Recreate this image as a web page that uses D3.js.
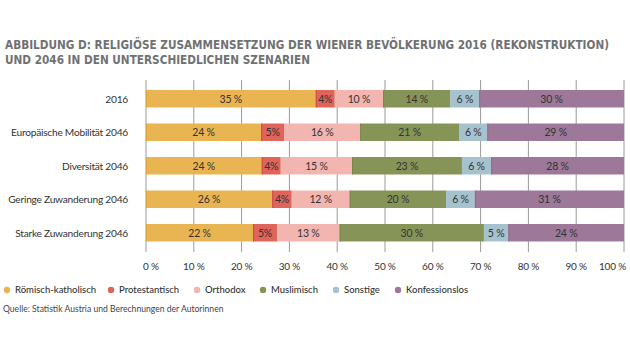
<!DOCTYPE html>
<html><head><meta charset="utf-8">
<script src="https://cdn.jsdelivr.net/npm/d3@7/dist/d3.min.js"></script>
<style>
body{margin:0;background:#fff;}
svg{display:block;}
</style></head>
<body>
<svg id="chart" width="630" height="356"></svg>
<script>
const titleLines = ["ABBILDUNG D: RELIGIÖSE ZUSAMMENSETZUNG DER WIENER BEVÖLKERUNG 2016 (REKONSTRUKTION)",
                    "UND 2046 IN DEN UNTERSCHIEDLICHEN SZENARIEN"];
const categories = ["2016","Europäische Mobilität 2046","Diversität 2046","Geringe Zuwanderung 2046","Starke Zuwanderung 2046"];
const seriesNames = ["Römisch-katholisch","Protestantisch","Orthodox","Muslimisch","Sonstige","Konfessionslos"];
const seriesColors = ["#E9B552","#E0645A","#F3B5AF","#879458","#A6C2CE","#9D7898"];
const seriesStrokes = ["#DDA33C","#C9493F","#F3B5AF","#7A874C","#A6C2CE","#906B8A"];
const katholisch     = [35.5, 24.1, 24.2, 26.4, 22.4];
const protestantisch = [4.0, 4.8, 4.0, 4.1, 5.0];
const orthodox       = [10.1, 15.9, 14.9, 12.1, 13.1];
const muslimisch     = [14.1, 20.7, 23.0, 20.2, 30.2];
const sonstige       = [6.0, 5.9, 6.1, 6.0, 5.1];
const konfessionslos = [30.3, 28.6, 27.8, 31.2, 24.2];
const labelKatholisch     = ["35 %","24 %","24 %","26 %","22 %"];
const labelProtestantisch = ["4%","5%","4%","4%","5%"];
const labelOrthodox       = ["10 %","16 %","15 %","12 %","13 %"];
const labelMuslimisch     = ["14 %","21 %","23 %","20 %","30 %"];
const labelSonstige       = ["6 %","6 %","6 %","6 %","5 %"];
const labelKonfessionslos = ["30 %","29 %","28 %","31 %","24 %"];
const tickValues = [0,10,20,30,40,50,60,70,80,90,100];
const tickLabels = ["0 %","10 %","20 %","30 %","40 %","50 %","60 %","70 %","80 %","90 %","100 %"];
const sourceText = "Quelle: Statistik Austria und Berechnungen der Autorinnen";

const seriesValues = [katholisch, protestantisch, orthodox, muslimisch, sonstige, konfessionslos];
const seriesLabels = [labelKatholisch, labelProtestantisch, labelOrthodox, labelMuslimisch, labelSonstige, labelKonfessionslos];

const svg = d3.select("#chart");
const FONT = "Lato, 'Open Sans', sans-serif";

// Title
svg.append("g").selectAll("text").data(titleLines).join("text")
  .attr("x", 5).attr("y", (d,i) => 49 + i*15)
  .attr("font-family", "'Liberation Sans Narrow','DejaVu Sans Condensed',sans-serif")
  .attr("font-weight", "bold").attr("font-size", 11.5)
  .attr("fill", "#707173")
  .attr("textLength", (d,i) => i === 0 ? 604 : 305)
  .attr("lengthAdjust", "spacingAndGlyphs")
  .text(d => d);

// Scales
const x = d3.scaleLinear().domain([0,100]).range([146,624]);
const y = d3.scaleBand().domain(categories).range([74,257.5]).padding(0.478);

// Stacked data
const rows = categories.map((c,i) => {
  const o = {cat:c};
  seriesNames.forEach((s,j) => o[s] = seriesValues[j][i]);
  return o;
});
const stack = d3.stack().keys(seriesNames)(rows);

// Grid lines
svg.append("g").selectAll("line").data(tickValues).join("line")
  .attr("x1", d => x(d)).attr("x2", d => x(d))
  .attr("y1", 80).attr("y2", 252)
  .attr("stroke", "#9a9a9a").attr("stroke-width", 1);

// Bars
const layers = svg.append("g").selectAll("g").data(stack).join("g");
layers.each(function(layer, j){
  const g = d3.select(this);
  g.selectAll("rect").data(layer).join("rect")
    .attr("x", d => x(d[0]))
    .attr("y", d => y(d.data.cat))
    .attr("width", d => x(d[1]) - x(d[0]))
    .attr("height", y.bandwidth())
    .attr("fill", seriesColors[j]);
  g.selectAll("line.edge").data(layer).join("line").attr("class","edge")
    .attr("x1", d => x(d[0]) + 0.5).attr("x2", d => x(d[0]) + 0.5)
    .attr("y1", d => y(d.data.cat)).attr("y2", d => y(d.data.cat) + y.bandwidth())
    .attr("stroke", seriesStrokes[j]).attr("stroke-width", 1);
  g.selectAll("text").data(layer).join("text")
    .attr("x", d => (x(d[0]) + x(d[1]))/2)
    .attr("y", d => y(d.data.cat) + y.bandwidth()/2 + 3.8)
    .attr("text-anchor", "middle")
    .attr("font-family", FONT).attr("font-size", 10.5)
    .attr("letter-spacing", -0.2)
    .attr("fill", "#333")
    .text((d,i) => seriesLabels[j][i]);
});

// Category labels
svg.append("g").selectAll("text").data(categories).join("text")
  .attr("x", 128).attr("y", d => y(d) + y.bandwidth()/2 + 3.8)
  .attr("text-anchor", "end")
  .attr("font-family", FONT).attr("font-size", 10.2)
  .attr("letter-spacing", -0.25)
  .attr("fill", "#333")
  .text(d => d);

// Tick labels
svg.append("g").selectAll("text").data(tickValues).join("text")
  .attr("x", (d,i) => i === 0 ? x(d) - 3 : (i === tickValues.length-1 ? x(d) + 2 : x(d)))
  .attr("y", 270)
  .attr("text-anchor", (d,i) => i === 0 ? "start" : (i === tickValues.length-1 ? "end" : "middle"))
  .attr("font-family", FONT).attr("font-size", 10)
  .attr("letter-spacing", -0.2)
  .attr("fill", "#333")
  .text((d,i) => tickLabels[i]);

// Legend
const legendX = [7, 111, 197, 263, 336, 398];
const lg = svg.append("g").selectAll("g").data(seriesNames).join("g")
  .attr("transform", (d,i) => `translate(${legendX[i]},290)`);
lg.append("circle").attr("r", 3.2).attr("fill", (d,i) => seriesColors[i]);
lg.append("text").attr("x", 8).attr("y", 3.3)
  .attr("font-family", FONT).attr("font-size", 9.5).attr("font-weight", 500)
  .attr("fill", "#333").text(d => d);

// Source
svg.append("text").attr("x", 3).attr("y", 312)
  .attr("font-family", FONT).attr("font-size", 8.6)
  .attr("fill", "#444").text(sourceText);
</script>
</body></html>
